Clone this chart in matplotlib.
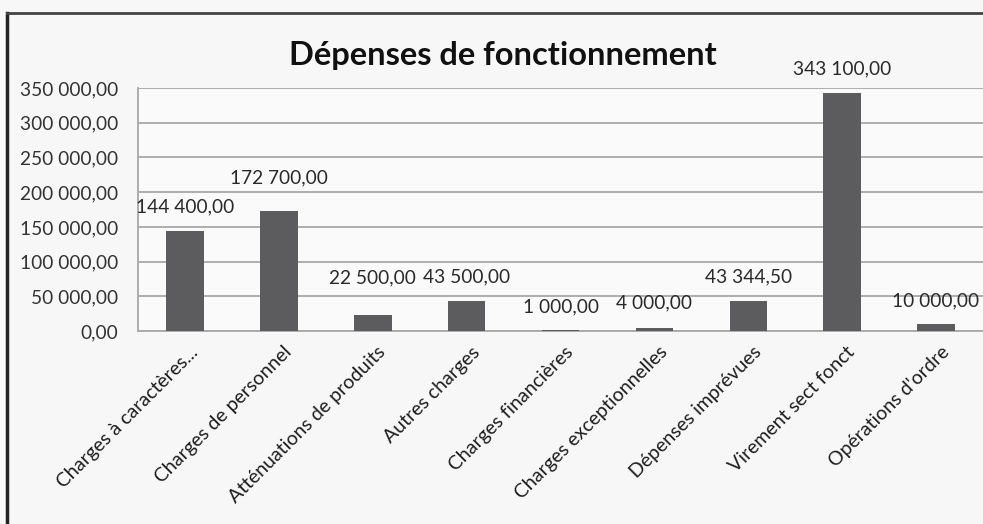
import matplotlib.pyplot as plt
from matplotlib.lines import Line2D

plt.rcParams['font.family'] = ['Lato', 'DejaVu Sans']

categories = ['Charges à caractères...', 'Charges de personnel', 'Atténuations de produits',
              'Autres charges', 'Charges financières', 'Charges exceptionnelles',
              'Dépenses imprévues', 'Virement sect fonct', "Opérations d'ordre"]
values = [144400.00, 172700.00, 22500.00, 43500.00, 1000.00, 4000.00, 43344.50, 343100.00, 10000.00]
y_ticks = [0, 50000, 100000, 150000, 200000, 250000, 300000, 350000]

# décalage des étiquettes au-dessus des barres (points)
label_offsets = [17, 24, 27, 17, 17, 18, 17, 17, 17]


def fr_format(v):
    s = f"{v:,.2f}"
    return s.replace(',', ' ').replace('.', ',')


fig = plt.figure(figsize=(9.83, 5.24), dpi=100, facecolor='#f7f7f7')
ax = fig.add_axes([0.1404, 0.3683, 0.8596, 0.4637])
ax.set_facecolor('#fafafa')

x = list(range(len(categories)))
ax.bar(x, values, width=0.4, color='#5c5c5e', zorder=3)

ax.set_ylim(0, 350000)
ax.set_xlim(-0.5, len(categories) - 0.5)
ax.set_yticks(y_ticks)
ax.set_yticklabels([fr_format(v) for v in y_ticks], fontsize=13.8, color='#333333')
ax.tick_params(axis='y', length=0, pad=14)
ax.set_xticks([])
ax.grid(axis='y', color='#a8a8a8', linewidth=1.3, zorder=0)
for side in ['top', 'right']:
    ax.spines[side].set_visible(False)
ax.spines['left'].set_color('#a8a8a8')
ax.spines['bottom'].set_color('#a8a8a8')
ax.spines['left'].set_linewidth(1.3)
ax.spines['bottom'].set_linewidth(1.3)

# étiquettes de données
for i, v in enumerate(values):
    ax.annotate(fr_format(v), xy=(i, v), xytext=(0, label_offsets[i]), textcoords='offset points',
                ha='center', va='center', fontsize=13.8, color='#2a2a2a')

# étiquettes des catégories
for i, c in enumerate(categories):
    ax.annotate(c, xy=(i, 0), xycoords=('data', 'axes fraction'), xytext=(3, -9),
                textcoords='offset points', rotation=45, ha='right', va='top',
                rotation_mode='anchor', fontsize=14, color='#1e1e1e', annotation_clip=False)

fig.text(0.512, 0.895, 'Dépenses de fonctionnement', ha='center', va='center',
         fontsize=23.5, fontweight='bold', color='#111111')

# cadre du graphique
fig.add_artist(Line2D([0.0075, 0.0075], [0.0, 0.975], transform=fig.transFigure, color='#222222', linewidth=2.5))
fig.add_artist(Line2D([0.0075, 1.0], [0.975, 0.975], transform=fig.transFigure, color='#444444', linewidth=2.0))

fig.savefig('out.png', dpi=100, facecolor=fig.get_facecolor())
